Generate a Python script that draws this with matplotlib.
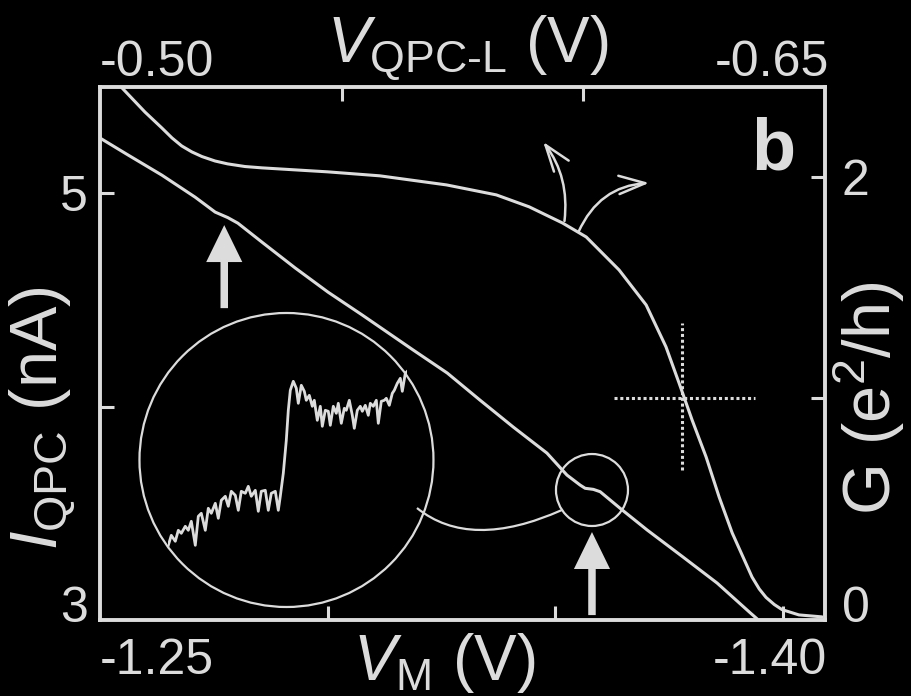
import matplotlib.pyplot as plt
from matplotlib.patches import Ellipse, PathPatch
from matplotlib.path import Path

plt.rcParams['font.family'] = 'Liberation Sans'
plt.rcParams['mathtext.fontset'] = 'custom'
plt.rcParams['mathtext.rm'] = 'Liberation Sans'
plt.rcParams['mathtext.it'] = 'Liberation Sans:italic'

fg = '#dcdcdc'

# QPC current vs. gate voltage V_M (bottom / left axes)
vm = [-1.2500, -1.2562, -1.2636, -1.2709, -1.2753, -1.2781, -1.2803, -1.2856,
      -1.2929, -1.3001, -1.3076, -1.3188, -1.3263, -1.3335, -1.3408, -1.3482,
      -1.3526, -1.3555, -1.3566, -1.3584, -1.3599, -1.3621, -1.3643, -1.3702,
      -1.3781, -1.3856, -1.3929, -1.3944]
i_qpc = [5.258, 5.178, 5.084, 4.981, 4.911, 4.885, 4.859, 4.770,
         4.649, 4.536, 4.429, 4.265, 4.157, 4.030, 3.904, 3.782,
         3.679, 3.632, 3.617, 3.612, 3.601, 3.562, 3.523, 3.422,
         3.295, 3.173, 3.033, 3.005]

# QPC conductance vs. V_QPC-L (top / right axes)
v_qpc = [-0.50455, -0.5093, -0.5128, -0.5149, -0.5169, -0.5190, -0.5211,
         -0.5238, -0.5264, -0.5300, -0.5335, -0.5403, -0.5471, -0.5579,
         -0.5717, -0.5820, -0.5888, -0.5957, -0.6006, -0.6074, -0.6130,
         -0.6171, -0.6198, -0.6225, -0.6254, -0.6281, -0.6308, -0.6349,
         -0.6364, -0.6378, -0.6395, -0.6411, -0.6446, -0.6494]
g = [2.402, 2.293, 2.221, 2.176, 2.140, 2.113, 2.092,
     2.072, 2.059, 2.047, 2.041, 2.032, 2.023, 2.005,
     1.964, 1.919, 1.865, 1.792, 1.729, 1.580, 1.422,
     1.233, 1.070, 0.903, 0.736, 0.555, 0.393, 0.194,
     0.140, 0.102, 0.070, 0.047, 0.023, 0.014]

# magnified trace around the current step (arbitrary units)
zoom_x = [0, 3, 7, 10, 13, 17, 20, 23, 27, 30, 33, 37, 40, 43, 47, 50, 53,
          57, 60, 63, 67, 70, 73, 77, 80, 83, 87, 90, 93, 97, 100, 103, 107,
          110, 112, 115, 118, 120, 122, 125, 128, 130, 133, 136, 138, 141,
          144, 146, 149, 152, 154, 157, 160, 162, 165, 168, 170, 173, 176,
          178, 181, 184, 186, 189, 192, 194, 197, 200, 202, 205, 208, 210,
          213, 216, 218, 221, 224, 226, 229, 232, 234, 237, 239]
zoom_y = [8, 18, 12, 23, 20, 27, 23, 32, 8, 37, 40, 23, 45, 40, 50, 35, 53,
          57, 47, 62, 58, 43, 62, 60, 67, 57, 63, 42, 62, 63, 43, 60, 62,
          43, 57, 80, 113, 143, 163, 172, 165, 150, 168, 162, 153, 158,
          147, 153, 133, 147, 127, 143, 142, 128, 147, 140, 150, 130, 145,
          143, 153, 138, 125, 143, 147, 142, 148, 138, 150, 147, 153, 130,
          152, 153, 155, 148, 160, 163, 170, 175, 162, 180, 182]

W, H = 912, 696
fig = plt.figure(figsize=(W / 100, H / 100), dpi=100, facecolor='black')
rect = [100 / W, 76 / H, 725 / W, 533 / H]

ax = fig.add_axes(rect)
ax.set_facecolor('black')
ax.plot(vm, i_qpc, color=fg, lw=2.2, solid_capstyle='round')
ax.set_xlim(-1.25, -1.4093)
ax.set_ylim(3, 5.497)
ax.set_xticks([-1.30, -1.35, -1.40])
ax.set_yticks([4, 5], labels=['', '5'])
ax.tick_params(axis='both', direction='in', length=10, width=2.2, color=fg,
               labelcolor=fg, labelsize=36, labelbottom=False, pad=9)
for s in ax.spines.values():
    s.set_color(fg)
    s.set_linewidth(2.8)

ax2 = fig.add_axes(rect, frameon=False)
ax2.patch.set_visible(False)
ax2.plot(v_qpc, g, color=fg, lw=2.2, solid_capstyle='round')
ax2.set_xlim(-0.50, -0.65)
ax2.set_ylim(0, 2.406)
ax2.xaxis.tick_top()
ax2.yaxis.tick_right()
ax2.set_xticks([-0.55, -0.60])
ax2.set_yticks([1, 2], labels=['', '2'])
ax2.tick_params(axis='both', direction='in', length=10, width=2.2, color=fg,
                labelcolor=fg, labelsize=36, labeltop=False, pad=12)

# dotted cross at the half-plateau point
cross_v, cross_g = -0.6205, 1.0
dots = (0, (1, 0.9))
ax2.plot([cross_v, cross_v], [cross_g - 0.323, cross_g + 0.341], color=fg,
         lw=2.2, ls=dots)
ax2.plot([cross_v + 0.0141, cross_v - 0.015], [cross_g, cross_g], color=fg,
         lw=2.2, ls=dots)

# curved arrows from the G trace to its axes
thin = dict(arrowstyle='->,head_length=0.95,head_width=0.33', color=fg,
            lw=1.8, mutation_scale=20, shrinkA=0, shrinkB=0)
ax2.annotate('', xy=(-0.5917, 2.158), xytext=(-0.5961, 1.801),
             arrowprops=dict(thin, connectionstyle='arc3,rad=0.2'))
ax2.annotate('', xy=(-0.6136, 1.973), xytext=(-0.5990, 1.752),
             arrowprops=dict(thin, connectionstyle='arc3,rad=-0.3'))

# thick arrows marking the kinks in I_QPC
thick = dict(arrowstyle='simple,head_length=1.33,head_width=1.3,tail_width=0.27',
             fc=fg, ec='none', mutation_scale=20, shrinkA=0, shrinkB=0)
ax.annotate('', xy=(-1.2773, 4.850), xytext=(-1.2773, 4.461), arrowprops=thick)
ax.annotate('', xy=(-1.3581, 3.412), xytext=(-1.3581, 3.023), arrowprops=thick)

# small circle on the step and the magnifying circle
ax.add_patch(Ellipse((-1.3581, 3.609), 0.01582, 0.3372, fill=False, ec=fg, lw=1.6))
ax.add_patch(Ellipse((0.2572, 0.3002), 0.4055, 0.5516, transform=ax.transAxes,
                     fill=False, ec=fg, lw=1.6))
link = Path([(0.4372, 0.2101), (0.5103, 0.1295), (0.6372, 0.2064)],
            [Path.MOVETO, Path.CURVE3, Path.CURVE3])
ax.add_patch(PathPatch(link, transform=ax.transAxes, fill=False, ec=fg, lw=1.6))

axz = fig.add_axes([168.3 / W, (H - 553.3) / H, 239 / W, 200 / H])
axz.axis('off')
axz.plot(zoom_x, zoom_y, color=fg, lw=2.0)
axz.set_xlim(0, 239)
axz.set_ylim(0, 200)

# tick labels at the frame corners
def px(x, y):
    return x / W, 1 - y / H

tk = dict(color=fg, fontsize=36, va='baseline')
fig.text(*px(100, 674), '-1.25', ha='left', **tk)
fig.text(*px(827, 674), '-1.40', ha='right', **tk)
fig.text(*px(100, 76), '-0.50', ha='left', **tk)
fig.text(*px(829, 76), '-0.65', ha='right', **tk)
fig.text(*px(88, 622), '3', ha='right', **tk)
fig.text(*px(842, 622), '0', ha='left', **tk)

lab = dict(color=fg, fontsize=46)
fig.text(*px(468, 62), r'$V_{\mathrm{QPC‐L}}$ (V)', ha='center', va='baseline', **lab)
fig.text(*px(444, 680), r'$V_{\mathrm{M}}$ (V)', ha='center', va='baseline', **lab)
side = dict(color=fg, fontsize=48, ha='center', va='center', rotation=90)
fig.text(*px(42, 418), r'$I_{\mathrm{QPC}}$ (nA)', **side)
fig.text(*px(869, 398), r'G (e$^{2}$/h)', **side)
fig.text(*px(773, 170), 'b', ha='center', va='baseline', color=fg,
         fontsize=52, fontweight='bold')

fig.savefig('out.png', dpi=100, facecolor='black')
